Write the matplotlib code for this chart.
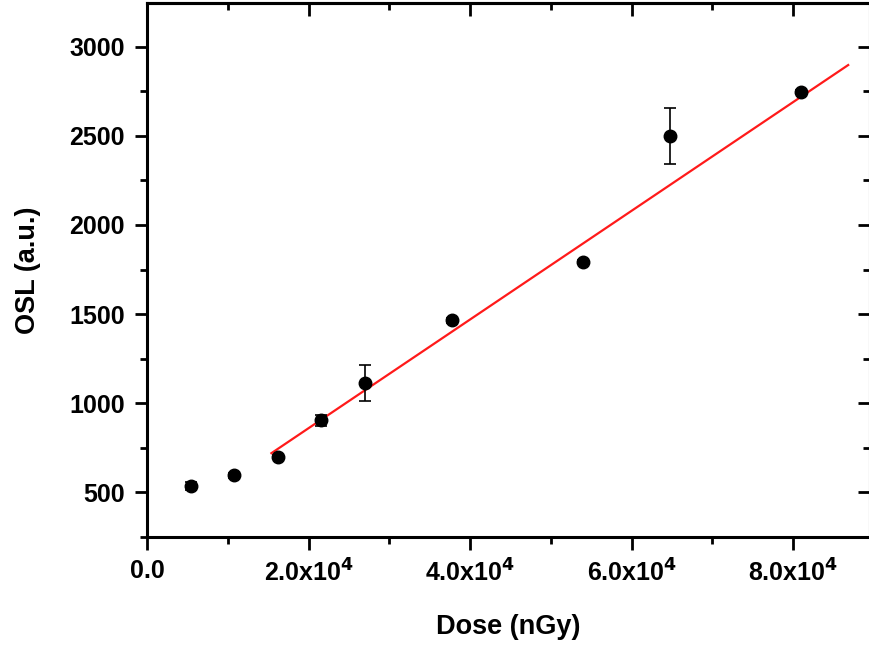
import matplotlib
matplotlib.use("Agg")
import matplotlib.pyplot as plt
from matplotlib.ticker import MultipleLocator, FuncFormatter
import numpy as np

# ---- data ----
dose = [5.4e3, 10.8e3, 16.2e3, 21.6e3, 27.0e3, 37.8e3, 54.0e3, 64.8e3, 81.0e3]
osl = [534, 595, 700, 905, 1112, 1465, 1792, 2497, 2745]
osl_err = [22, 12, 10, 32, 100, 15, 12, 157, 10]

fit_slope = 0.03049
fit_intercept = 250.5
fit_x_range = [15.4e3, 86.8e3]

x_ticks = [0, 2e4, 4e4, 6e4, 8e4]
y_ticks = [500, 1000, 1500, 2000, 2500, 3000]

plt.rcParams['font.family'] = ['Liberation Sans', 'DejaVu Sans']
plt.rcParams['font.weight'] = 'bold'
plt.rcParams['mathtext.default'] = 'bf'

W, H = 869, 654
fig = plt.figure(figsize=(W / 100, H / 100), dpi=100)
x0, x1 = 147, 870
y0, y1 = 537, 3
ax = fig.add_axes([x0 / W, (H - y0) / H, (x1 - x0) / W, (y0 - y1) / H])

fx = np.array(fit_x_range)
ax.plot(fx, fit_intercept + fit_slope * fx, color='#ff1a1a', lw=1.6, zorder=2)
ax.errorbar(dose, osl, yerr=osl_err, fmt='o', color='black', ms=9,
            elinewidth=1.2, capsize=4.5, capthick=1.2, zorder=3)

ax.set_xlim(0, 8.95e4)
ax.set_ylim(250, 3245)

def xfmt(v, pos):
    if v == 0:
        return '0.0'
    e = int(np.floor(np.log10(abs(v))))
    m = v / 10 ** e
    return r'%.1fx10$^{\mathbf{%d}}$' % (m, e)

ax.xaxis.set_major_locator(plt.FixedLocator(x_ticks))
ax.xaxis.set_minor_locator(MultipleLocator(1e4))
ax.xaxis.set_major_formatter(FuncFormatter(xfmt))
ax.yaxis.set_major_locator(plt.FixedLocator(y_ticks))
ax.yaxis.set_minor_locator(MultipleLocator(250))

for s in ax.spines.values():
    s.set_linewidth(2.2)

ax.tick_params(which='major', direction='out', length=9, width=2.0,
               labelsize=18, pad=7)
ax.tick_params(which='minor', direction='out', length=5, width=2.0)
ax.tick_params(axis='x', which='major', pad=7)
ax.tick_params(which='both', top=False, right=False)

# mirrored ticks (inward) on top and right
sx = ax.secondary_xaxis('top')
sx.xaxis.set_major_locator(plt.FixedLocator(x_ticks))
sx.xaxis.set_minor_locator(MultipleLocator(1e4))
sx.tick_params(which='major', direction='in', length=9, width=2.0, labeltop=False)
sx.tick_params(which='minor', direction='in', length=5, width=2.0)
sx.spines['top'].set_linewidth(2.2)
sy = ax.secondary_yaxis('right')
sy.yaxis.set_major_locator(plt.FixedLocator(y_ticks))
sy.yaxis.set_minor_locator(MultipleLocator(250))
sy.tick_params(which='major', direction='in', length=9, width=2.0, labelright=False)
sy.tick_params(which='minor', direction='in', length=5, width=2.0)
sy.spines['right'].set_linewidth(2.2)

for lab in ax.get_xticklabels() + ax.get_yticklabels():
    lab.set_fontweight('bold')

ax.set_xlabel('Dose (nGy)', fontsize=19.5, fontweight='bold', labelpad=20)
ax.set_ylabel('OSL (a.u.)', fontsize=19.5, fontweight='bold', labelpad=20)

fig.savefig('out.png', dpi=100)
